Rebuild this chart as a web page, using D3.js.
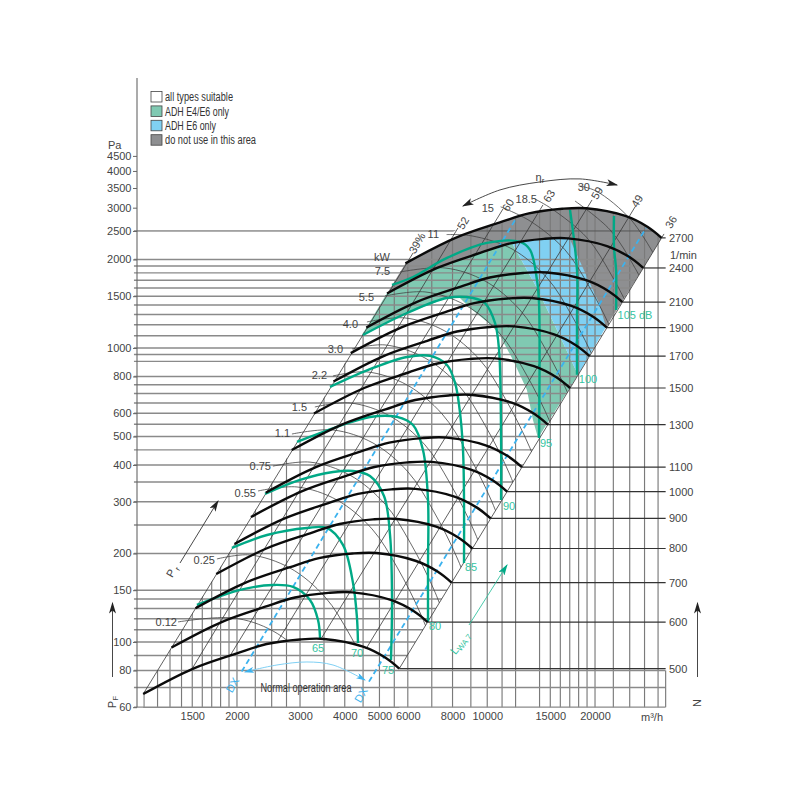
<!DOCTYPE html>
<html><head><meta charset="utf-8">
<script src="https://cdn.jsdelivr.net/npm/d3@7/dist/d3.min.js"></script>
<style>
html,body{margin:0;padding:0;background:#fff}
svg{display:block}
text{font-family:"Liberation Sans",Arial,sans-serif;font-size:11px;fill:#444}
.narrow{font-size:12px;fill:#333}
.db{fill:#35c4a2}
.dx{fill:#3bb2ee}
.domain{display:none}
</style></head><body>
<svg id="c" width="800" height="800"></svg>
<script>
// ---- axis values ----
const pressureTicks=[60,80,100,150,200,300,400,500,600,800,1000,1500,2000,2500,3000,3500,4000,4500];
const pressureGrid=[60,70,80,90,100,110,120,130,140,150,200,250,300,350,400,450,500,550,600,650,700,750,800,900,950,1000,1100,1200,1300,1400,1500,1600,1700,1800,1900,2000,2500];
const flowTicks=[1500,2000,3000,4000,5000,6000,8000,10000,15000,20000];
const flowGrid=[1100,1200,1300,1400,1500,1600,1700,1800,1900,2000,2250,2500,2750,3000,3500,4000,4500,5000,5500,6000,7000,8000,9000,10000,11000,12000,14000,15000,16000,17000,18000,19000,20000,22500,25000,27500,30000];
const speeds=[500,600,700,800,900,1000,1100,1300,1500,1700,1900,2100,2400,2700];

// ---- fan curves at constant speed: [flow m3/h, pressure Pa] ----
const rpm500=[[1094,66.5],[1510,81.2],[2000,91.5],[2420,98.4],[3000,102],[3500,102.4],[4500,96.4],[5200,88.4],[5680,81.2]];
const rpm600=[[1313,95.8],[1812,116.9],[2400,131.8],[2904,141.7],[3600,146.9],[4200,147.5],[5400,138.8],[6240,127.3],[6816,116.9]];
const rpm700=[[1532,130.3],[2114,159.2],[2800,179.3],[3388,192.9],[4200,199.9],[4900,200.7],[6300,188.9],[7280,173.3],[7952,159.2]];
const rpm800=[[1750,170.2],[2416,207.9],[3200,234.2],[3872,251.9],[4800,261.1],[5600,262.1],[7200,246.8],[8320,226.3],[9088,207.9]];
const rpm900=[[1969,215.5],[2718,263.1],[3600,296.5],[4356,318.8],[5400,330.5],[6300,331.8],[8100,312.3],[9360,286.4],[10224,263.1]];
const rpm1000=[[2188,266],[3020,324.8],[4000,366],[4840,393.6],[6000,408],[7000,409.6],[9000,385.6],[10400,353.6],[11360,324.8]];
const rpm1100=[[2407,321.9],[3322,393],[4400,442.9],[5324,476.3],[6600,493.7],[7700,495.6],[9900,466.6],[11440,427.9],[12496,393]];
const rpm1300=[[2844,449.5],[3926,548.9],[5200,618.5],[6292,665.2],[7800,689.5],[9100,692.2],[11700,651.7],[13520,597.6],[14768,548.9]];
const rpm1500=[[3282,598.5],[4530,730.8],[6000,823.5],[7260,885.6],[9000,918],[10500,921.6],[13500,867.6],[15600,795.6],[17040,730.8]];
const rpm1700=[[3720,768.7],[5134,938.7],[6800,1057.7],[8228,1137.5],[10200,1179],[11900,1183.7],[15300,1114.4],[17680,1021.9],[19312,938.7]];
const rpm1900=[[4157,960.3],[5738,1172.5],[7600,1321.3],[9196,1420.9],[11400,1472.9],[13300,1478.7],[17100,1392],[19760,1276.5],[21584,1172.5]];
const rpm2100=[[4595,1173],[6342,1432.4],[8400,1614],[10164,1735.8],[12600,1799.3],[14700,1806.3],[18900,1700.5],[21840,1559.4],[23856,1432.4]];
const rpm2400=[[5251,1532],[7248,1870.8],[9600,2108],[11616,2267],[14400,2350],[16800,2359],[21600,2221],[24960,2037],[27264,1871]];
const rpm2700=[[5908,1939],[8154,2368],[10800,2668],[13068,2869],[16200,2974],[18900,2986],[24300,2811],[28080,2578],[30672,2368]];
const rpmCurves=[rpm500,rpm600,rpm700,rpm800,rpm900,rpm1000,rpm1100,rpm1300,rpm1500,rpm1700,rpm1900,rpm2100,rpm2400,rpm2700];

// ---- sound power curves (green) ----
const db65=[[1546,133.6],[2039,150.3],[2520,156.3],[2868,153.9],[3198,139],[3368,118.8],[3412,103.2]];
const db70=[[1936,208.8],[2426,231.1],[3137,244.2],[3567,244.2],[3954,213.8],[4218,158.8],[4325,121.6],[4355,99.2]];
const db75=[[2395,318.7],[3000,355.6],[3708,378.6],[4218,381.6],[4704,366.9],[5148,313.8],[5352,231.1],[5420,142.3],[5385,86.8]];
const db80=[[2942,479],[3805,538.8],[4704,582.6],[5597,582.6],[6205,547.2],[6615,449.9],[6832,304.1],[6832,179.9],[6832,117]];
const db85=[[3638,736.9],[4797,855.1],[5970,932],[6922,939.4],[7720,875.4],[8130,760.3],[8342,640],[8557,449.9],[8612,185.7]];
const db90=[[4497,1107],[5970,1315],[7720,1479],[9129,1479],[9856,1422],[10512,1216],[10790,984.5],[10930,498],[10930,304.1]];
const db95=[[5420,1638],[6205,1743],[7720,2024],[9984,2276],[12350,2294],[13170,2155],[13770,1703],[13950,1422],[13950,494]];
const db100=[[17030,2947],[17810,1842],[17810,1245],[17810,810]];
const db105=[[22600,2812],[22600,2206],[22900,1842],[22900,1347]];
const dbCurves=[db65,db70,db75,db80,db85,db90,db95,db100,db105];

// ---- efficiency lines ----
const eta39=[[1094,66.5],[6205,2104]];
const eta52=[[1497,80.9],[8284,2559]];
const eta60=[[1911,89.6],[11066,2971]];
const eta63=[[2602,100.8],[14310,3065]];
const eta59=[[3433,102.4],[19620,3187]];
const eta49=[[4584,94.7],[25870,3018]];
const eta36=[[5680,81.2],[31170,2442]];
const etaLines=[eta39,eta52,eta60,eta63,eta59,eta49,eta36];

// ---- shaft power arcs ----
const kw012=[[1369,117],[1950,120.7],[2521,109],[3159,86.9],[3709,64.5]];
const kw025=[[1758,191.6],[2174,197.7],[2811,178.5],[3522,142.3],[4135,105.6],[4859,71.4]];
const kw055=[[2290,326.3],[2942,336.7],[3804,304],[4766,242.4],[5596,179.8],[6575,121.5],[7473,79.1]];
const kw075=[[2520,396.3],[3199,409],[4136,369.3],[5182,294.5],[6084,218.4],[7150,147.6],[8125,96.1]];
const kw11=[[2848,509.7],[3709,526],[4796,475],[6009,378.7],[7054,280.9],[8290,189.9],[9421,123.6]];
const kw15=[[3300,629.9],[4136,650],[5348,587],[6700,468],[7867,347],[9244,234.7],[10505,152.8]];
const kw22=[[3708,803],[4614,829],[5966,748.6],[7475,596.9],[8776,442.7],[10312,299.3],[11720,194.8]];
const kw30=[[4190,992],[5180,1024],[6698,924.7],[8392,737.3],[9852,546.8],[11577,369.7],[13157,240.6]];
const kw40=[[4614,1226],[5890,1265],[7616,1142],[9542,910.8],[11203,675.5],[13164,456.7],[14961,297.3]];
const kw55=[[5180,1503],[6700,1551],[8663,1401],[10854,1117],[12743,828],[14975,560],[17018,364.5]];
const kw75=[[5706,1813],[7620,1871],[9853,1690],[12344,1347],[14493,999],[17031,675],[19355,440]];
const kw110=[[7700,2430],[9070,2404],[11728,2171],[14693,1731],[17251,1284],[20271,868],[23038,565]];
const kw150=[[10900,3020],[13163,2704],[16492,2156],[19362,1599],[22752,1081],[25857,704]];
const kw185=[[13600,3210],[15167,2970],[19003,2368],[22310,1756],[26217,1187],[29794,773]];
const kw220=[[17585,3161],[22032,2521],[25867,1870],[30396,1264]];
const kw300=[[18000,3560],[20132,3419],[25223,2726],[29614,2022]];
const kwArcs=[kw012,kw025,kw055,kw075,kw11,kw15,kw22,kw30,kw40,kw55,kw75,kw110,kw150,kw185,kw220,kw300];

// ---- shaded application areas ----
const areaGreen=[[4468,1107],[5248,1539],[7870,2155],[12350,2424],[11800,2241],[13770,1600],[15660,1152],[17930,810],[13860,494],[13420,569],[12910,720],[11800,910],[10650,1152],[8950,1368],[8390,1479],[7720,1479],[5970,1315]];
const areaBlue=[[11430,2424],[17590,2424],[20650,1575],[21460,1179],[17930,810],[15660,1152],[13770,1600],[11800,2241]];
const areaGrayLower=[[16810,2424],[19000,1742],[20520,1422],[21460,1179],[27270,1871],[23490,2330]];

// ---- guide lines ----
const dxLeft=[[2061,79.3],[12110,2790]];
const dxRight=[[4674,73.3],[27770,2559]];
const normalArc=[[2105,79.1],[2586,83.5],[3136,85.5],[3708,83.5],[4557,74.2]];
const etaArrow=[[8557,3041],[10852,3447],[14040,3670],[18160,3758],[23040,3583]];

// ---- texts ----
const legendLabels=["all types suitable","ADH E4/E6 only","ADH E6 only","do not use in this area"];
const legendColors=["#ffffff","#80c9b2","#80d0f2","#8e8f91"];
const legendWidths=[68,64,51,91];
const kwLabels=[["0.12",177,622],["0.25",215,560],["0.55",256,493],["0.75",271,466],["1.1",290,433],["1.5",307,407],["2.2",327,375],["3.0",343,349],["4.0",358,324],["5.5",374,297],["7.5",390,271],["kW",390,257],["11",439,234],["15",494,208],["18.5",537,199],["30",590,187]];
const etaLabels=[["39%",417,243],["52",463,223],["60",508,205],["63",549,196],["59",597,193],["49",637,201],["36",671,222]];
const dbLabels=[["65",318,648],["70",357,653],["75",388,670],["80",435,626],["85",471,567],["90",509,506],["95",546,443],["100",588,379],["105 dB",635,315]];

const green="#00a986", blue="#3bb2ee";
const svg=d3.select("#c");
const x=d3.scaleLog().domain([1000,40000]).range([129.2,702.8]);
const y=d3.scaleLog().domain([60,4500]).range([707.2,155.9]);
const pt=d=>[x(d[0]),y(d[1])];
const smooth=d3.line().x(d=>x(d[0])).y(d=>y(d[1])).curve(d3.curveCatmullRom.alpha(0.5));
const straight=d3.line().x(d=>x(d[0])).y(d=>y(d[1]));
const poly=a=>"M"+a.map(d=>pt(d).join(",")).join("L")+"Z";

const defs=svg.append("defs");
function marker(id,col,w,h){
  defs.append("marker").attr("id",id).attr("viewBox","0 0 10 6").attr("refX",9).attr("refY",3)
    .attr("markerWidth",w).attr("markerHeight",h).attr("markerUnits","userSpaceOnUse").attr("orient","auto-start-reverse")
    .append("path").attr("d","M0,0L10,3L0,6L2.5,3Z").attr("fill",col);
}
marker("blk","#222",13,7);marker("blu",blue,10,6);marker("grn",green,12,7);

// clip areas built from the scales
const topPath=smooth(rpm2700);
const cornerLeft=rpm500[0], cornerRight=rpm500[rpm500.length-1];
const vClip=`M${x(cornerLeft[0])},${y(60)+1}L${x(cornerLeft[0])},${y(cornerLeft[1])}L${topPath.slice(1)}L${x(31500)},${y(2368)}L${x(31500)},${y(60)+1}Z`;
const hClip1=`M${x(cornerLeft[0])},${y(60)+1}L${x(cornerLeft[0])},${y(cornerLeft[1])}L${topPath.slice(1)}L${x(cornerRight[0])},${y(cornerRight[1])}L${x(cornerRight[0])},${y(60)+1}Z`;
const hClip2=poly([[1030,59.8],[1030,2560],[8350,2560],[5908,1939],[1094,66.5],[1094,59.8]]);
const hClip3=poly([[5600,81.2],[31500,81.2],[31500,59.8],[5600,59.8]]);
defs.append("clipPath").attr("id","vc").append("path").attr("d",vClip);
const hc=defs.append("clipPath").attr("id","hc");
hc.append("path").attr("d",hClip1);hc.append("path").attr("d",hClip2);hc.append("path").attr("d",hClip3);

// shaded areas
const gFill=svg.append("g");
gFill.append("path").attr("d",poly(areaGreen)).attr("fill","#80c9b2");
gFill.append("path").attr("d",poly(areaBlue)).attr("fill","#80d0f2");
gFill.append("path").attr("d",smooth(rpm2700)+"L"+smooth(rpm2400.slice().reverse()).slice(1)+"Z").attr("fill","#8e8f91");
gFill.append("path").attr("d",poly(areaGrayLower)).attr("fill","#8e8f91");

// grid
svg.append("g").attr("clip-path","url(#vc)").selectAll("line").data(flowGrid).join("line")
  .attr("x1",d=>x(d)).attr("x2",d=>x(d)).attr("y1",y(60)).attr("y2",y(4500))
  .attr("stroke","#7a7a7a").attr("stroke-width",1.15);
svg.append("g").attr("clip-path","url(#hc)").selectAll("line").data(pressureGrid).join("line")
  .attr("x1",x(1030)).attr("x2",x(31500)).attr("y1",d=>y(d)).attr("y2",d=>y(d))
  .attr("stroke",d=>d===2500?"#555":"#8a8a8a").attr("stroke-width",d=>d===2500?1:1.4);
svg.append("line").attr("x1",x(31500)).attr("x2",x(31500)).attr("y1",y(60)).attr("y2",y(80)).attr("stroke","#7a7a7a").attr("stroke-width",1.15);

// power arcs (kept above the 500 rpm curve and left of the 36 % line)
const arcClipD=`M${x(1000)},${y(4500)}L${x(40000)},${y(4500)}L${x(31170)},${y(2442)}L${x(cornerRight[0])},${y(cornerRight[1])}L${smooth(rpm500.slice().reverse()).slice(1)}L${x(1000)},${y(cornerLeft[1])}Z`;
defs.append("clipPath").attr("id","ac").append("path").attr("d",arcClipD);
svg.append("g").attr("clip-path","url(#ac)").selectAll("path").data(kwArcs).join("path")
  .attr("d",smooth).attr("fill","none").attr("stroke","#444").attr("stroke-width",.8);

// efficiency lines
svg.append("g").selectAll("path").data(etaLines).join("path")
  .attr("d",straight).attr("fill","none").attr("stroke","#383838").attr("stroke-width",.8);

// dashed duty lines
svg.append("g").selectAll("path").data([dxLeft,dxRight]).join("path")
  .attr("d",straight).attr("fill","none").attr("stroke",blue).attr("stroke-width",1.8).attr("stroke-dasharray","5.5 3.5");
svg.append("path").attr("d",smooth(normalArc)).attr("fill","none").attr("stroke","#7fd0f4").attr("stroke-width",1)
  .attr("marker-start","url(#blu)").attr("marker-end","url(#blu)");

// green level curves
svg.append("g").selectAll("path").data(dbCurves).join("path")
  .attr("d",smooth).attr("fill","none").attr("stroke",green).attr("stroke-width",2.4);

// speed curves and speed lines
svg.append("g").selectAll("line").data(rpmCurves).join("line")
  .attr("x1",d=>x(d[d.length-1][0])).attr("x2",x(31500)).attr("y1",d=>y(d[d.length-1][1])).attr("y2",d=>y(d[d.length-1][1]))
  .attr("stroke","#333").attr("stroke-width",1.2);
svg.append("g").selectAll("path").data(rpmCurves).join("path")
  .attr("d",smooth).attr("fill","none").attr("stroke","#0b0b0b").attr("stroke-width",2.4);

// axes
const yAxis=d3.axisLeft(y).tickValues(pressureTicks).tickFormat(d3.format("d")).tickSize(4).tickPadding(1.5);
const gy=svg.append("g").attr("transform",`translate(137,0)`).call(yAxis);
gy.selectAll("line").attr("stroke","#666");
gy.attr("font-size",null).attr("font-family",null);
svg.append("line").attr("x1",137).attr("x2",137).attr("y1",78).attr("y2",y(60)).attr("stroke","#666").attr("stroke-width",1.1);

const xAxis=d3.axisBottom(x).tickValues(flowTicks).tickFormat(d3.format("d")).tickSize(0).tickPadding(5);
const gx=svg.append("g").attr("transform",`translate(0,${y(60)})`).call(xAxis);
gx.attr("font-size",null).attr("font-family",null);

svg.append("g").selectAll("text").data(speeds).join("text")
  .attr("x",669).attr("y",(d,i)=>{const c=rpmCurves[i];return y(c[c.length-1][1])}).attr("dy","0.36em").text(d=>d);

// text helper
const T=(s,px,py,cl,rot,anchor)=>{
  const t=svg.append("text").attr("x",px).attr("y",py).attr("dy","0.36em").attr("text-anchor",anchor||"start").text(s);
  if(cl)t.attr("class",cl);
  if(rot)t.attr("transform",`rotate(${rot},${px},${py})`);
  return t;
};
T("Pa",108,145);
T("1/min",670,255);
T("m³/h",663,717,null,0,"end");
kwLabels.forEach(d=>T(d[0],d[1],d[2],null,0,"end"));
etaLabels.forEach(d=>T(d[0],d[1],d[2],null,-60,"middle"));
dbLabels.forEach(d=>T(d[0],d[1],d[2],"db",0,"middle"));
T("DX",232.5,685,"dx",-60,"middle");
T("DX",361,695,"dx",-60,"middle");
T("Normal operation area",306,687.5,"narrow",0,"middle").attr("textLength",91).attr("lengthAdjust","spacingAndGlyphs");
const lw=T("",460,643,"db",-52,"middle");
lw.append("tspan").text("L");lw.append("tspan").attr("font-size",8).attr("dy","0.25em").text("WA 7");
const eta=T("",540,177,null,0,"middle");
eta.append("tspan").text("η");eta.append("tspan").attr("font-size",8).attr("dy","0.3em").text("r");
const pr=T("",172,571,null,-60,"middle");
pr.append("tspan").text("P");pr.append("tspan").attr("font-size",8).attr("dy","0.3em").text(" r");
const pf=T("",112,702,null,-90,"middle");
pf.append("tspan").text("P");pf.append("tspan").attr("font-size",8).attr("dy","0.3em").text("F");
T("N",697,703,null,-90,"middle");

// arrows
const arrow=(x1,y1,x2,y2,col,m,w)=>svg.append("line").attr("x1",x1).attr("y1",y1).attr("x2",x2).attr("y2",y2)
  .attr("stroke",col).attr("stroke-width",w||.9).attr("marker-end",`url(#${m})`);
arrow(112.5,677,112.5,603,"#333","blk");
arrow(697.5,677,697.5,603,"#333","blk");
arrow(180,563,218,501,"#333","blk");
arrow(469,625,507,565,"#35c4a2","grn");
svg.append("path").attr("d",smooth(etaArrow)).attr("fill","none").attr("stroke","#333").attr("stroke-width",.9)
  .attr("marker-start","url(#blk)").attr("marker-end","url(#blk)");

// legend
const lg=svg.append("g").selectAll("g").data(legendLabels).join("g");
lg.append("rect").attr("x",151).attr("width",11).attr("height",10.5)
  .attr("y",(d,i)=>91.5+i*14.4).attr("fill",(d,i)=>legendColors[i]).attr("stroke","#444").attr("stroke-width",.8);
lg.append("text").attr("class","narrow").attr("x",165).attr("y",(d,i)=>96.8+i*14.4).attr("dy","0.36em")
  .attr("textLength",(d,i)=>legendWidths[i]).attr("lengthAdjust","spacingAndGlyphs").text(d=>d);
</script>
</body></html>
